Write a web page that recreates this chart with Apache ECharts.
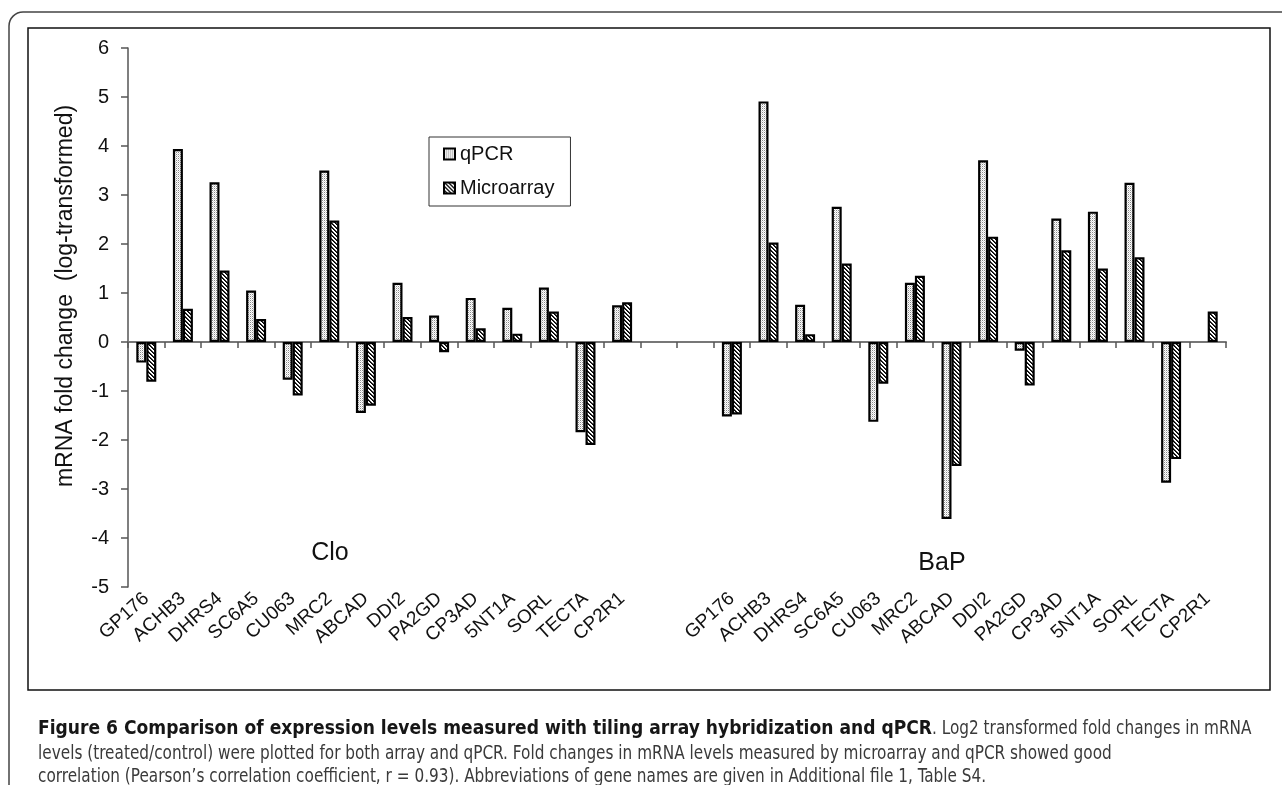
<!DOCTYPE html>
<html><head><meta charset="utf-8">
<script src="https://cdn.jsdelivr.net/npm/echarts/dist/echarts.min.js"></script>
<style>
html,body{margin:0;padding:0;background:#fff;}
#chart{position:absolute;left:0;top:0;width:1282px;height:785px;}
.cap{position:absolute;display:inline-block;white-space:nowrap;font-family:'DejaVu Sans Condensed','Liberation Sans Narrow','Liberation Sans',sans-serif;font-stretch:condensed;font-size:19px;line-height:20px;color:#3a3a3a;transform-origin:0 0;}
.cap b{color:#161616;}
</style></head><body>
<div id="chart"></div>
<div class="cap" id="b1" style="left:38px;top:717px"><b>Figure 6 Comparison of expression levels measured with tiling array hybridization and qPCR</b></div>
<div class="cap" id="r1" style="top:717px">. Log2 transformed fold changes in mRNA</div>
<div class="cap" id="l2" style="left:38px;top:742px">levels (treated/control) were plotted for both array and qPCR. Fold changes in mRNA levels measured by microarray and qPCR showed good</div>
<div class="cap" id="l3" style="left:38px;top:765px">correlation (Pearson’s correlation coefficient, r = 0.93). Abbreviations of gene names are given in Additional file 1, Table S4.</div>
<script>
// ---- data ----
const genes = ['GP176','ACHB3','DHRS4','SC6A5','CU063','MRC2','ABCAD','DDI2','PA2GD','CP3AD','5NT1A','SORL','TECTA','CP2R1'];
const gapLabels = ['', ''];
const cloQPCR  = [-0.42, 3.94, 3.26, 1.05, -0.77, 3.50, -1.45, 1.21, 0.54, 0.90, 0.70, 1.11, -1.84, 0.75];
const cloMicro = [-0.81, 0.68, 1.46, 0.47, -1.09, 2.48, -1.30, 0.51, -0.21, 0.28, 0.17, 0.62, -2.10, 0.81];
const bapQPCR  = [-1.52, 4.91, 0.76, 2.76, -1.63, 1.21, -3.61, 3.71, -0.18, 2.52, 2.66, 3.25, -2.87, null];
const bapMicro = [-1.48, 2.03, 0.16, 1.60, -0.85, 1.35, -2.53, 2.15, -0.89, 1.87, 1.50, 1.73, -2.39, 0.62];
const yMin = -5, yMax = 6, yStep = 1;
const groupNames = ['Clo', 'BaP'];
const seriesNames = ['qPCR', 'Microarray'];

const categories = genes.concat(gapLabels, genes);
const gapNull = gapLabels.map(() => null);
const qpcrAll = cloQPCR.concat(gapNull, bapQPCR);
const microAll = cloMicro.concat(gapNull, bapMicro);

function makePattern(size, fn){
  const c = document.createElement('canvas'); c.width = size; c.height = size;
  const ctx = c.getContext('2d');
  ctx.fillStyle = '#fff'; ctx.fillRect(0,0,size,size);
  for(let x=0;x<size;x++) for(let y=0;y<size;y++){ const col = fn(x,y); if(col){ ctx.fillStyle = col; ctx.fillRect(x,y,1,1);} }
  return {image: c, repeat: 'repeat'};
}
const dotPat = makePattern(2, (x,y)=> (x===0&&y===0)?'#8a8a8a':((x===1&&y===1)?'#d6d6d6':null));
const hatchPat = makePattern(4, (x,y)=> { const d=((x-y)%4+4)%4; return d===0?'#000':(d===1?'#333':null); });

const chart = echarts.init(document.getElementById('chart'), null, {renderer:'canvas'});
const font = "'Liberation Sans', Arial, sans-serif";
chart.setOption({
  animation: false,
  backgroundColor: '#fff',
  grid: {left: 128, top: 48, right: 56, bottom: 198},
  legend: {
    orient: 'vertical', left: 429, top: 137,
    padding: [7, 16, 8, 14], itemGap: 14, itemWidth: 11, itemHeight: 11,
    borderColor: '#333', borderWidth: 1, icon: 'rect',
    textStyle: {fontFamily: font, fontSize: 20, color: '#111', lineHeight: 20},
    data: seriesNames
  },
  xAxis: [
    {type: 'category', data: categories, position: 'bottom',
     axisLine: {onZero: true, lineStyle: {color: '#777', width: 2}},
     axisTick: {show: true, interval: 0, length: 6, lineStyle: {color: '#555', width: 1.5}},
     axisLabel: {show: false}, splitLine: {show: false}},
    {type: 'category', data: categories, position: 'bottom',
     axisLine: {show: false, onZero: false}, axisTick: {show: false},
     axisLabel: {show: true, interval: 0, rotate: 42, margin: 9, fontFamily: font, fontSize: 19, color: '#111'},
     splitLine: {show: false}}
  ],
  yAxis: {
    type: 'value', min: yMin, max: yMax, interval: yStep,
    axisLine: {show: true, lineStyle: {color: '#555', width: 1.5}},
    axisTick: {show: true, length: 7, lineStyle: {color: '#555', width: 1.5}},
    axisLabel: {margin: 19, fontFamily: font, fontSize: 20, color: '#111'},
    splitLine: {show: false}
  },
  series: [
    {name: seriesNames[0], type: 'bar', data: qpcrAll, barWidth: 10, barGap: '0%',
     itemStyle: {color: dotPat, borderColor: '#000', borderWidth: 2.2}},
    {name: seriesNames[1], type: 'bar', data: microAll, barWidth: 10, barGap: '0%',
     itemStyle: {color: hatchPat, borderColor: '#000', borderWidth: 2.2}}
  ],
  graphic: [
    {type: 'rect', shape: {x: 9, y: 12, width: 1320, height: 900, r: 14}, style: {fill: 'none', stroke: '#444', lineWidth: 1.5}, silent: true, z: -1},
    {type: 'rect', shape: {x: 28, y: 28, width: 1242, height: 662}, style: {fill: 'none', stroke: '#111', lineWidth: 1.5}, silent: true, z: -1},
    {type: 'text', x: 66, y: 296, rotation: Math.PI/2, style: {text: 'mRNA fold change  (log-transformed)', font: "23px 'Liberation Sans', Arial, sans-serif", fill: '#111', align: 'center', verticalAlign: 'middle'}},
    {type: 'text', x: 330, y: 553, style: {text: groupNames[0], font: "25px 'Liberation Sans', Arial, sans-serif", fill: '#111', align: 'center', verticalAlign: 'middle'}},
    {type: 'text', x: 942, y: 563, style: {text: groupNames[1], font: "25px 'Liberation Sans', Arial, sans-serif", fill: '#111', align: 'center', verticalAlign: 'middle'}}
  ]
});

// caption: bold lead scaled to its width, regular text with one shared horizontal scale
const w = id => document.getElementById(id).getBoundingClientRect().width;
const b1 = document.getElementById('b1'), r1 = document.getElementById('r1');
const l2 = document.getElementById('l2'), l3 = document.getElementById('l3');
const boldEnd = 932;
const sb = (boldEnd - 38) / w('b1');
const sr = ((1160 / w('l2')) + (872 / w('l3'))) / 2;
b1.style.transform = 'scaleX(' + sb + ')';
r1.style.left = boldEnd + 'px';
const sr1 = Math.min(sr, (1267 - boldEnd) / w('r1'));
r1.style.transform = 'scaleX(' + sr1 + ')';
l2.style.transform = 'scaleX(' + sr + ')';
l3.style.transform = 'scaleX(' + sr + ')';
</script>
</body></html>
